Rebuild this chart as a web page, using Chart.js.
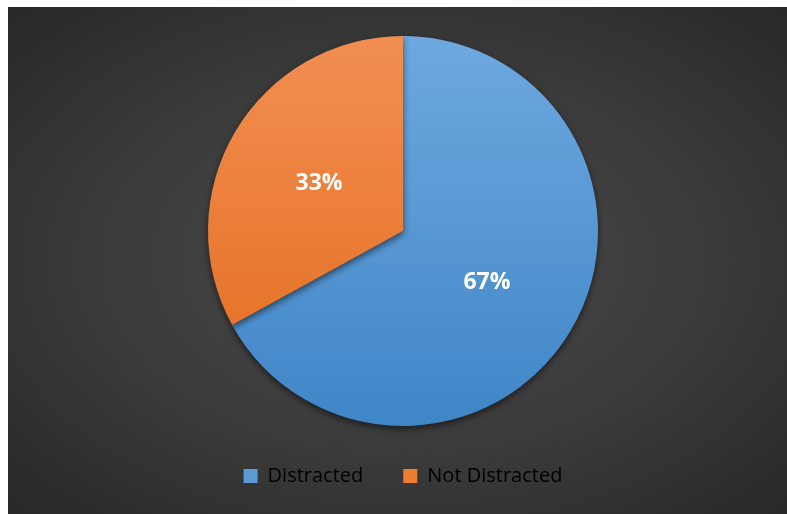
<!DOCTYPE html>
<html>
<head>
<meta charset="utf-8">
<script src="https://cdn.jsdelivr.net/npm/chart.js@4.4.1/dist/chart.umd.min.js"></script>
<style>
  html, body { margin: 0; padding: 0; background: #ffffff; overflow: hidden; }
  #frame {
    position: absolute; left: 8px; top: 7px; width: 790px; height: 507px;
    background: radial-gradient(ellipse farthest-corner at 50% 50%, #4d4d4d 0%, #3a3a3a 55%, #282828 100%);
  }
  #chart-box { position: absolute; left: 0; top: 0; width: 790px; height: 507px; }
</style>
</head>
<body>
<div id="frame">
  <div id="chart-box"><canvas id="pie"></canvas></div>
</div>
<script>
const categories = ['Distracted', 'Not Distracted'];
const shares = [67, 33];
const pctLabels = ['67%', '33%'];

// top-to-bottom shading per slice: [light, dark], plus a flat swatch for the legend
const shades = [
  ['#6ea8df', '#3f86c7'],
  ['#f28e52', '#e36c1d']
];
const swatches = ['#5b9bd5', '#ed7d31'];

const sliceFill = (ctx) => {
  const chart = ctx.chart;
  const area = chart.chartArea;
  if (!area) return shades[ctx.dataIndex][0];
  const g = chart.ctx.createLinearGradient(0, area.top, 0, area.bottom);
  g.addColorStop(0, shades[ctx.dataIndex][0]);
  g.addColorStop(1, shades[ctx.dataIndex][1]);
  return g;
};

// soft drop shadow under the pie
const pieShadow = {
  id: 'pieShadow',
  beforeDatasetsDraw(chart) {
    const c = chart.ctx;
    c.save();
    c.shadowColor = 'rgba(0,0,0,0.55)';
    c.shadowBlur = 7;
    c.shadowOffsetY = 3;
  },
  afterDatasetsDraw(chart) {
    chart.ctx.restore();
  }
};

// percentage text in the middle of each slice
const sliceLabels = {
  id: 'sliceLabels',
  afterDraw(chart) {
    const c = chart.ctx;
    const arcs = chart.getDatasetMeta(0).data;
    c.save();
    c.fillStyle = '#ffffff';
    c.font = 'bold 23px "Open Sans", sans-serif';
    c.textAlign = 'center';
    c.textBaseline = 'middle';
    arcs.forEach((arc, i) => {
      const p = arc.tooltipPosition();
      c.fillText(pctLabels[i], p.x, p.y + 2);
    });
    c.restore();
  }
};

new Chart(document.getElementById('pie'), {
  type: 'pie',
  data: {
    labels: categories,
    datasets: [{
      data: shares,
      backgroundColor: sliceFill,
      borderWidth: 0
    }]
  },
  options: {
    responsive: true,
    maintainAspectRatio: false,
    animation: false,
    layout: { padding: { top: 29, bottom: 18 } },
    plugins: {
      tooltip: { enabled: false },
      legend: {
        position: 'bottom',
        labels: {
          color: '#d9d9d9',
          font: { family: '"Open Sans", sans-serif', size: 20 },
          boxWidth: 14,
          boxHeight: 14,
          padding: 40,
          generateLabels(chart) {
            return categories.map((name, i) => ({
              text: name,
              fillStyle: swatches[i],
              strokeStyle: swatches[i],
              lineWidth: 0,
              index: i
            }));
          }
        }
      }
    }
  },
  plugins: [pieShadow, sliceLabels]
});
</script>
</body>
</html>
